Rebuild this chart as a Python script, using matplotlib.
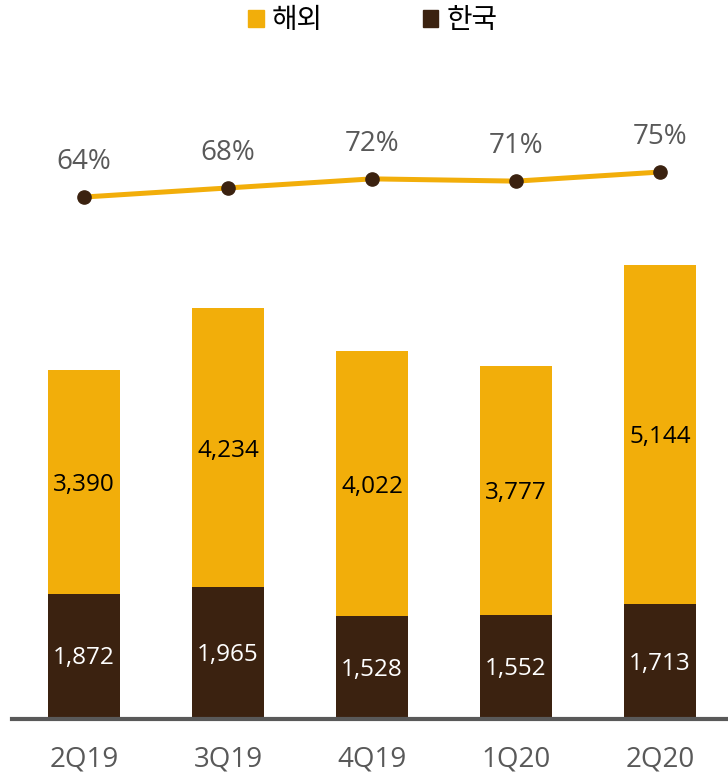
import matplotlib
matplotlib.use("Agg")
import matplotlib.pyplot as plt
from matplotlib.patches import Patch

categories = ["2Q19", "3Q19", "4Q19", "1Q20", "2Q20"]
korea = [1872, 1965, 1528, 1552, 1713]
overseas = [3390, 4234, 4022, 3777, 5144]
overseas_pct = [64, 68, 72, 71, 75]

ORANGE = "#F2AE0A"
BROWN = "#3B2210"
GRAY = "#595959"

plt.rcParams['font.family'] = ['Open Sans', 'Noto Sans CJK KR', 'DejaVu Sans']

W, H = 728, 775
fig = plt.figure(figsize=(W / 100, H / 100), dpi=100)
left_px, right_px, top_px, base_px = 12, 728, 100, 717
ax = fig.add_axes([left_px / W, (H - base_px) / H, (right_px - left_px) / W, (base_px - top_px) / H])
for s in ['top', 'left', 'right']:
    ax.spines[s].set_visible(False)
ax.spines['bottom'].set_position(('outward', 1.4))
ax.spines['bottom'].set_color(GRAY)
ax.spines['bottom'].set_linewidth(3)
ax.spines['bottom'].set_zorder(3)

x = list(range(len(categories)))
ax.bar(x, korea, width=0.5, color=BROWN, zorder=2)
ax.bar(x, overseas, width=0.5, bottom=korea, color=ORANGE, zorder=2)

for i in x:
    ax.annotate(f"{korea[i]:,}", (i, korea[i] / 2), xytext=(0, -3),
                textcoords='offset pixels', ha='center', va='center',
                color='white', fontsize=17.5)
    ax.annotate(f"{overseas[i]:,}", (i, korea[i] + overseas[i] / 2), xytext=(0, -3),
                textcoords='offset pixels', ha='center', va='center',
                color='black', fontsize=17.5)

ax.set_xlim(-0.5, 4.472)
ax.set_ylim(0, 9357)
ax.set_yticks([])
ax.set_xticks(x)
ax.set_xticklabels(categories, fontsize=20, color=GRAY)
ax.tick_params(axis='x', length=0, pad=19)

ax2 = ax.twinx()
ax2.set_ylim(-164.8, 106.7)
ax2.plot(x, overseas_pct, color=ORANGE, lw=3.6, zorder=3)
ax2.plot(x, overseas_pct, 'o', color=BROWN, markersize=9.5, zorder=4)
for i in x:
    ax2.annotate(f"{overseas_pct[i]}%", (i, overseas_pct[i]), xytext=(0, 35),
                 textcoords='offset pixels', ha='center', va='center',
                 fontsize=20, color=GRAY)
ax2.axis('off')

handles = [Patch(color=ORANGE, label="해외"), Patch(color=BROWN, label="한국")]
fig.legend(handles=handles, loc='center', bbox_to_anchor=(373 / W, 1 - 20 / H),
           ncol=2, frameon=False, handlelength=0.55, handleheight=0.55,
           handletextpad=0.3, columnspacing=3.6,
           prop={'family': ['Noto Sans CJK KR', 'DejaVu Sans'], 'size': 20})

fig.savefig("out.png", dpi=100)
